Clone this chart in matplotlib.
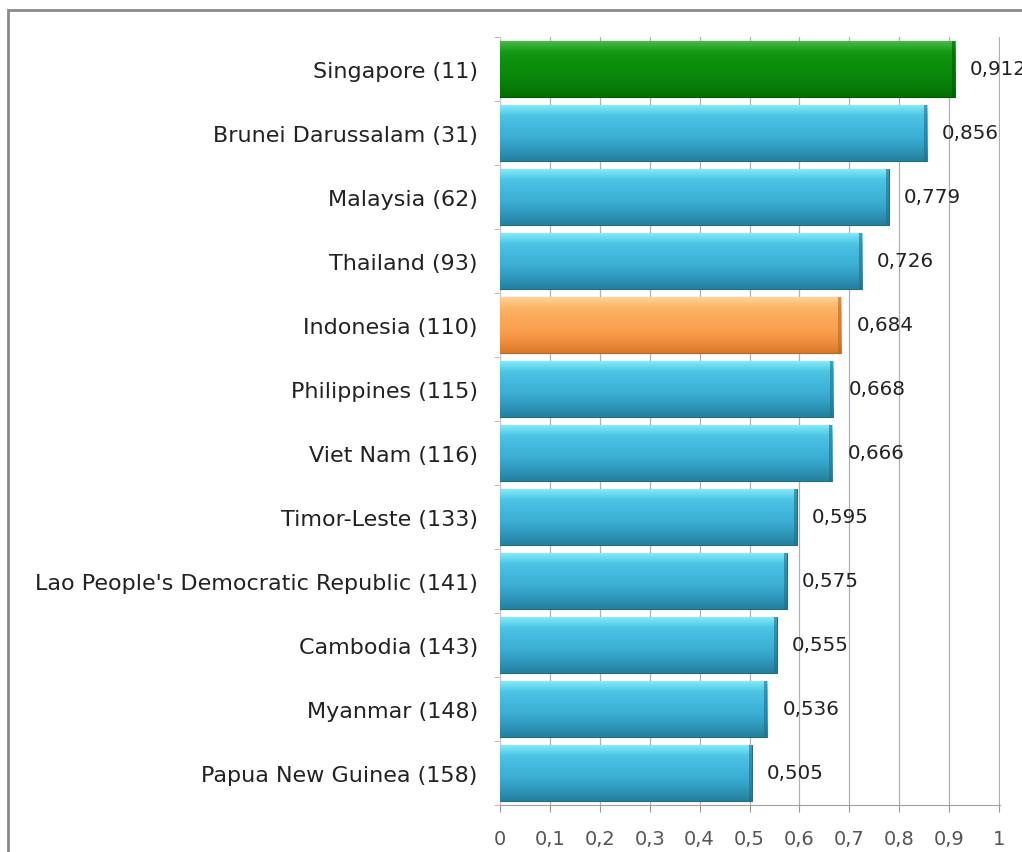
import numpy as np
import matplotlib.pyplot as plt
from matplotlib.colors import LinearSegmentedColormap
from matplotlib.patches import Rectangle

# ── dados ────────────────────────────────────────────────────────────────────
countries = [
    "Singapore (11)", "Brunei Darussalam (31)", "Malaysia (62)", "Thailand (93)",
    "Indonesia (110)", "Philippines (115)", "Viet Nam (116)", "Timor-Leste (133)",
    "Lao People's Democratic Republic (141)", "Cambodia (143)", "Myanmar (148)",
    "Papua New Guinea (158)",
]
hdi = [0.912, 0.856, 0.779, 0.726, 0.684, 0.668, 0.666, 0.595, 0.575, 0.555, 0.536, 0.505]
bar_kind = ["green", "blue", "blue", "blue", "orange", "blue", "blue", "blue",
            "blue", "blue", "blue", "blue"]

# gradientes (de baixo para cima)
grads = {
    "blue":   ["#23809e", "#2e98bb", "#3aaed2", "#41b8dc", "#4cc4e4", "#86eefb"],
    "green":  ["#036e03", "#077f07", "#0a8a0a", "#0c900c", "#149a14", "#4cbc4c"],
    "orange": ["#d9782a", "#ef8f3c", "#f8a050", "#fba858", "#fcb466", "#ffd69a"],
}
edges = {"blue": "#1f6f8a", "green": "#035a03", "orange": "#b9661f"}

fig = plt.figure(figsize=(10.22, 8.53), dpi=100)
fig.patch.set_facecolor("white")

# moldura cinza (cortada à direita e em baixo como no original)
fig.patches.append(Rectangle((8 / 1022, -0.2), 2.0, 1.2 - 11 / 853,
                             transform=fig.transFigure, fill=False,
                             edgecolor="#8a8a8a", linewidth=2, zorder=0))

ax = fig.add_axes([500 / 1022, 1 - 806 / 853, 500 / 1022, 768 / 853])

n = len(countries)
ypos = np.arange(n)[::-1]
h = 0.88

for y, v, kind in zip(ypos, hdi, bar_kind):
    bars = ax.barh(y, v, height=h, color=grads[kind][2],
                   edgecolor=edges[kind], linewidth=0.8, zorder=3)
    cmap = LinearSegmentedColormap.from_list(kind, grads[kind])
    grad = np.linspace(0, 1, 64).reshape(-1, 1)
    im = ax.imshow(grad, cmap=cmap, aspect="auto", origin="lower",
                   extent=(0, v, y - h / 2, y + h / 2), zorder=3.5,
                   interpolation="bicubic")
    im.set_clip_path(bars[0])
    # sombra à direita para efeito 3D
    ax.barh(y, 0.006, left=v - 0.006, height=h, color=edges[kind],
            alpha=0.6, linewidth=0, zorder=4)
    ax.text(v + 0.03, y, f"{v:.3f}".replace(".", ","), va="center", ha="left",
            fontsize=14.3, color="#222222", zorder=5, clip_on=False)

ax.set_xlim(0, 1.002)
ax.set_ylim(-0.5, n - 0.5)

xt = np.round(np.arange(0, 1.01, 0.1), 1)
ax.set_xticks(xt)
ax.set_xticklabels([("%g" % t).replace(".", ",") for t in xt],
                   fontsize=14, color="#555555")
ax.set_yticks(ypos)
ax.set_yticklabels(countries, fontsize=16, color="#222222")
ax.set_yticks(np.arange(n + 1) - 0.5, minor=True)
ax.tick_params(axis="y", which="major", length=0, pad=16)
ax.tick_params(axis="y", which="minor", length=4, color="#d9a0a0")
ax.tick_params(axis="x", length=5, color="#999999", pad=12)

ax.xaxis.grid(True, color="#b0b0b0", linewidth=0.9, zorder=0)
ax.set_axisbelow(True)
for side in ["top", "right"]:
    ax.spines[side].set_visible(False)
ax.spines["bottom"].set_color("#a0a0a0")
ax.spines["left"].set_color("#c8c8c8")

fig.savefig("out.png", dpi=100, facecolor="white")
